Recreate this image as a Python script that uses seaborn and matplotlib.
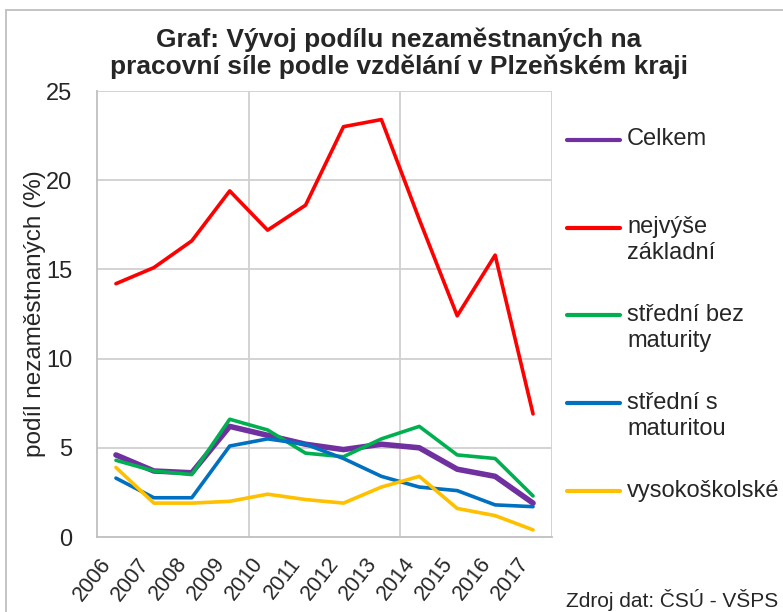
import matplotlib
matplotlib.use('Agg')
import matplotlib.pyplot as plt
import matplotlib.patches as mpatches
import numpy as np
import pandas as pd
import seaborn as sns

# data
years = [2006, 2007, 2008, 2009, 2010, 2011, 2012, 2013, 2014, 2015, 2016, 2017]
celkem = [4.6, 3.7, 3.6, 6.2, 5.7, 5.2, 4.9, 5.2, 5.0, 3.8, 3.4, 1.9]
zakladni = [14.2, 15.1, 16.6, 19.4, 17.2, 18.6, 23.0, 23.4, 17.8, 12.4, 15.8, 6.9]
bez_maturity = [4.3, 3.7, 3.5, 6.6, 6.0, 4.7, 4.5, 5.5, 6.2, 4.6, 4.4, 2.3]
s_maturitou = [3.3, 2.2, 2.2, 5.1, 5.5, 5.2, 4.4, 3.4, 2.8, 2.6, 1.8, 1.7]
vysokoskolske = [3.9, 1.9, 1.9, 2.0, 2.4, 2.1, 1.9, 2.8, 3.4, 1.6, 1.2, 0.4]

series_names = ['Celkem', 'nejvýše základní', 'střední bez maturity',
                'střední s maturitou', 'vysokoškolské']
legend_labels = ['\nCelkem\n', '\nnejvýše\nzákladní', '\nstřední bez\nmaturity',
                 '\nstřední s\nmaturitou', '\nvysokoškolské\n']
colors = ['#7030A0', '#FF0000', '#00B050', '#0070C0', '#FFC000']

df = pd.DataFrame({
    'rok': years * 5,
    'podil': celkem + zakladni + bez_maturity + s_maturitou + vysokoskolske,
    'vzdelani': np.repeat(series_names, len(years)),
})

sns.set_style('white')
plt.rcParams['font.family'] = ['Liberation Sans', 'DejaVu Sans']

fig = plt.figure(figsize=(7.83, 6.12), dpi=100)
ax = fig.add_axes([97/783, 1-537/612, (552-97)/783, (537-91)/612])

sns.lineplot(data=df, x='rok', y='podil', hue='vzdelani', hue_order=series_names,
             palette=colors, linewidth=2.6, ax=ax, sort=False)
ax.lines[0].set_linewidth(4.0)

ax.set_xlim(2005.5, 2017.5)
ax.set_ylim(0, 25)
ax.set_yticks([0, 5, 10, 15, 20, 25])
ax.set_xticks(years)
ax.set_xticklabels([str(y) for y in years], rotation=52, ha='right',
                   rotation_mode='default', fontsize=15.5)
ax.tick_params(axis='y', length=0, pad=18, labelsize=17)
ax.tick_params(axis='x', length=0, pad=12)

grid_c = '#D0D0D0'
for yv in [5, 10, 15, 20, 25]:
    ax.axhline(yv, color=grid_c, lw=1.3, zorder=0)
for xv in [2009.5, 2013.5, 2017.5]:
    ax.axvline(xv, color=grid_c, lw=1.3, zorder=0)
for s in ['top', 'right']:
    ax.spines[s].set_visible(False)
for s in ['left', 'bottom']:
    ax.spines[s].set_color('#BFBFBF')
    ax.spines[s].set_linewidth(1.3)

ax.set_xlabel('')
ax.set_ylabel('podíl nezaměstnaných (%)', fontsize=17.5, labelpad=0)

handles, _ = ax.get_legend_handles_labels()
for h in handles:
    h.set_linewidth(3.0)
leg = ax.legend(handles, legend_labels, loc='upper left',
                bbox_to_anchor=(567/783, 1-103/612), bbox_transform=fig.transFigure,
                frameon=False, fontsize=17, handlelength=2.25, handletextpad=0.3,
                labelspacing=0.64, borderpad=0, borderaxespad=0)
for t in leg.get_texts():
    t.set_linespacing(1.2)

fig.text(399/783, 1-53/612,
         'Graf: Vývoj podílu nezaměstnaných na\npracovní síle podle vzdělání v Plzeňském kraji',
         ha='center', va='center', fontsize=19, fontweight='bold', linespacing=1.15)
fig.text(778/783, 1-607/612, 'Zdroj dat: ČSÚ - VŠPS', ha='right', va='baseline',
         fontsize=15)

# outer chart frame
fig.patches.append(mpatches.Rectangle((6/783, -0.1), 2, 1.1 - 10/612,
                                      transform=fig.transFigure, fill=False,
                                      edgecolor='#BFBFBF', lw=1.3))

fig.savefig('out.png', dpi=100)
